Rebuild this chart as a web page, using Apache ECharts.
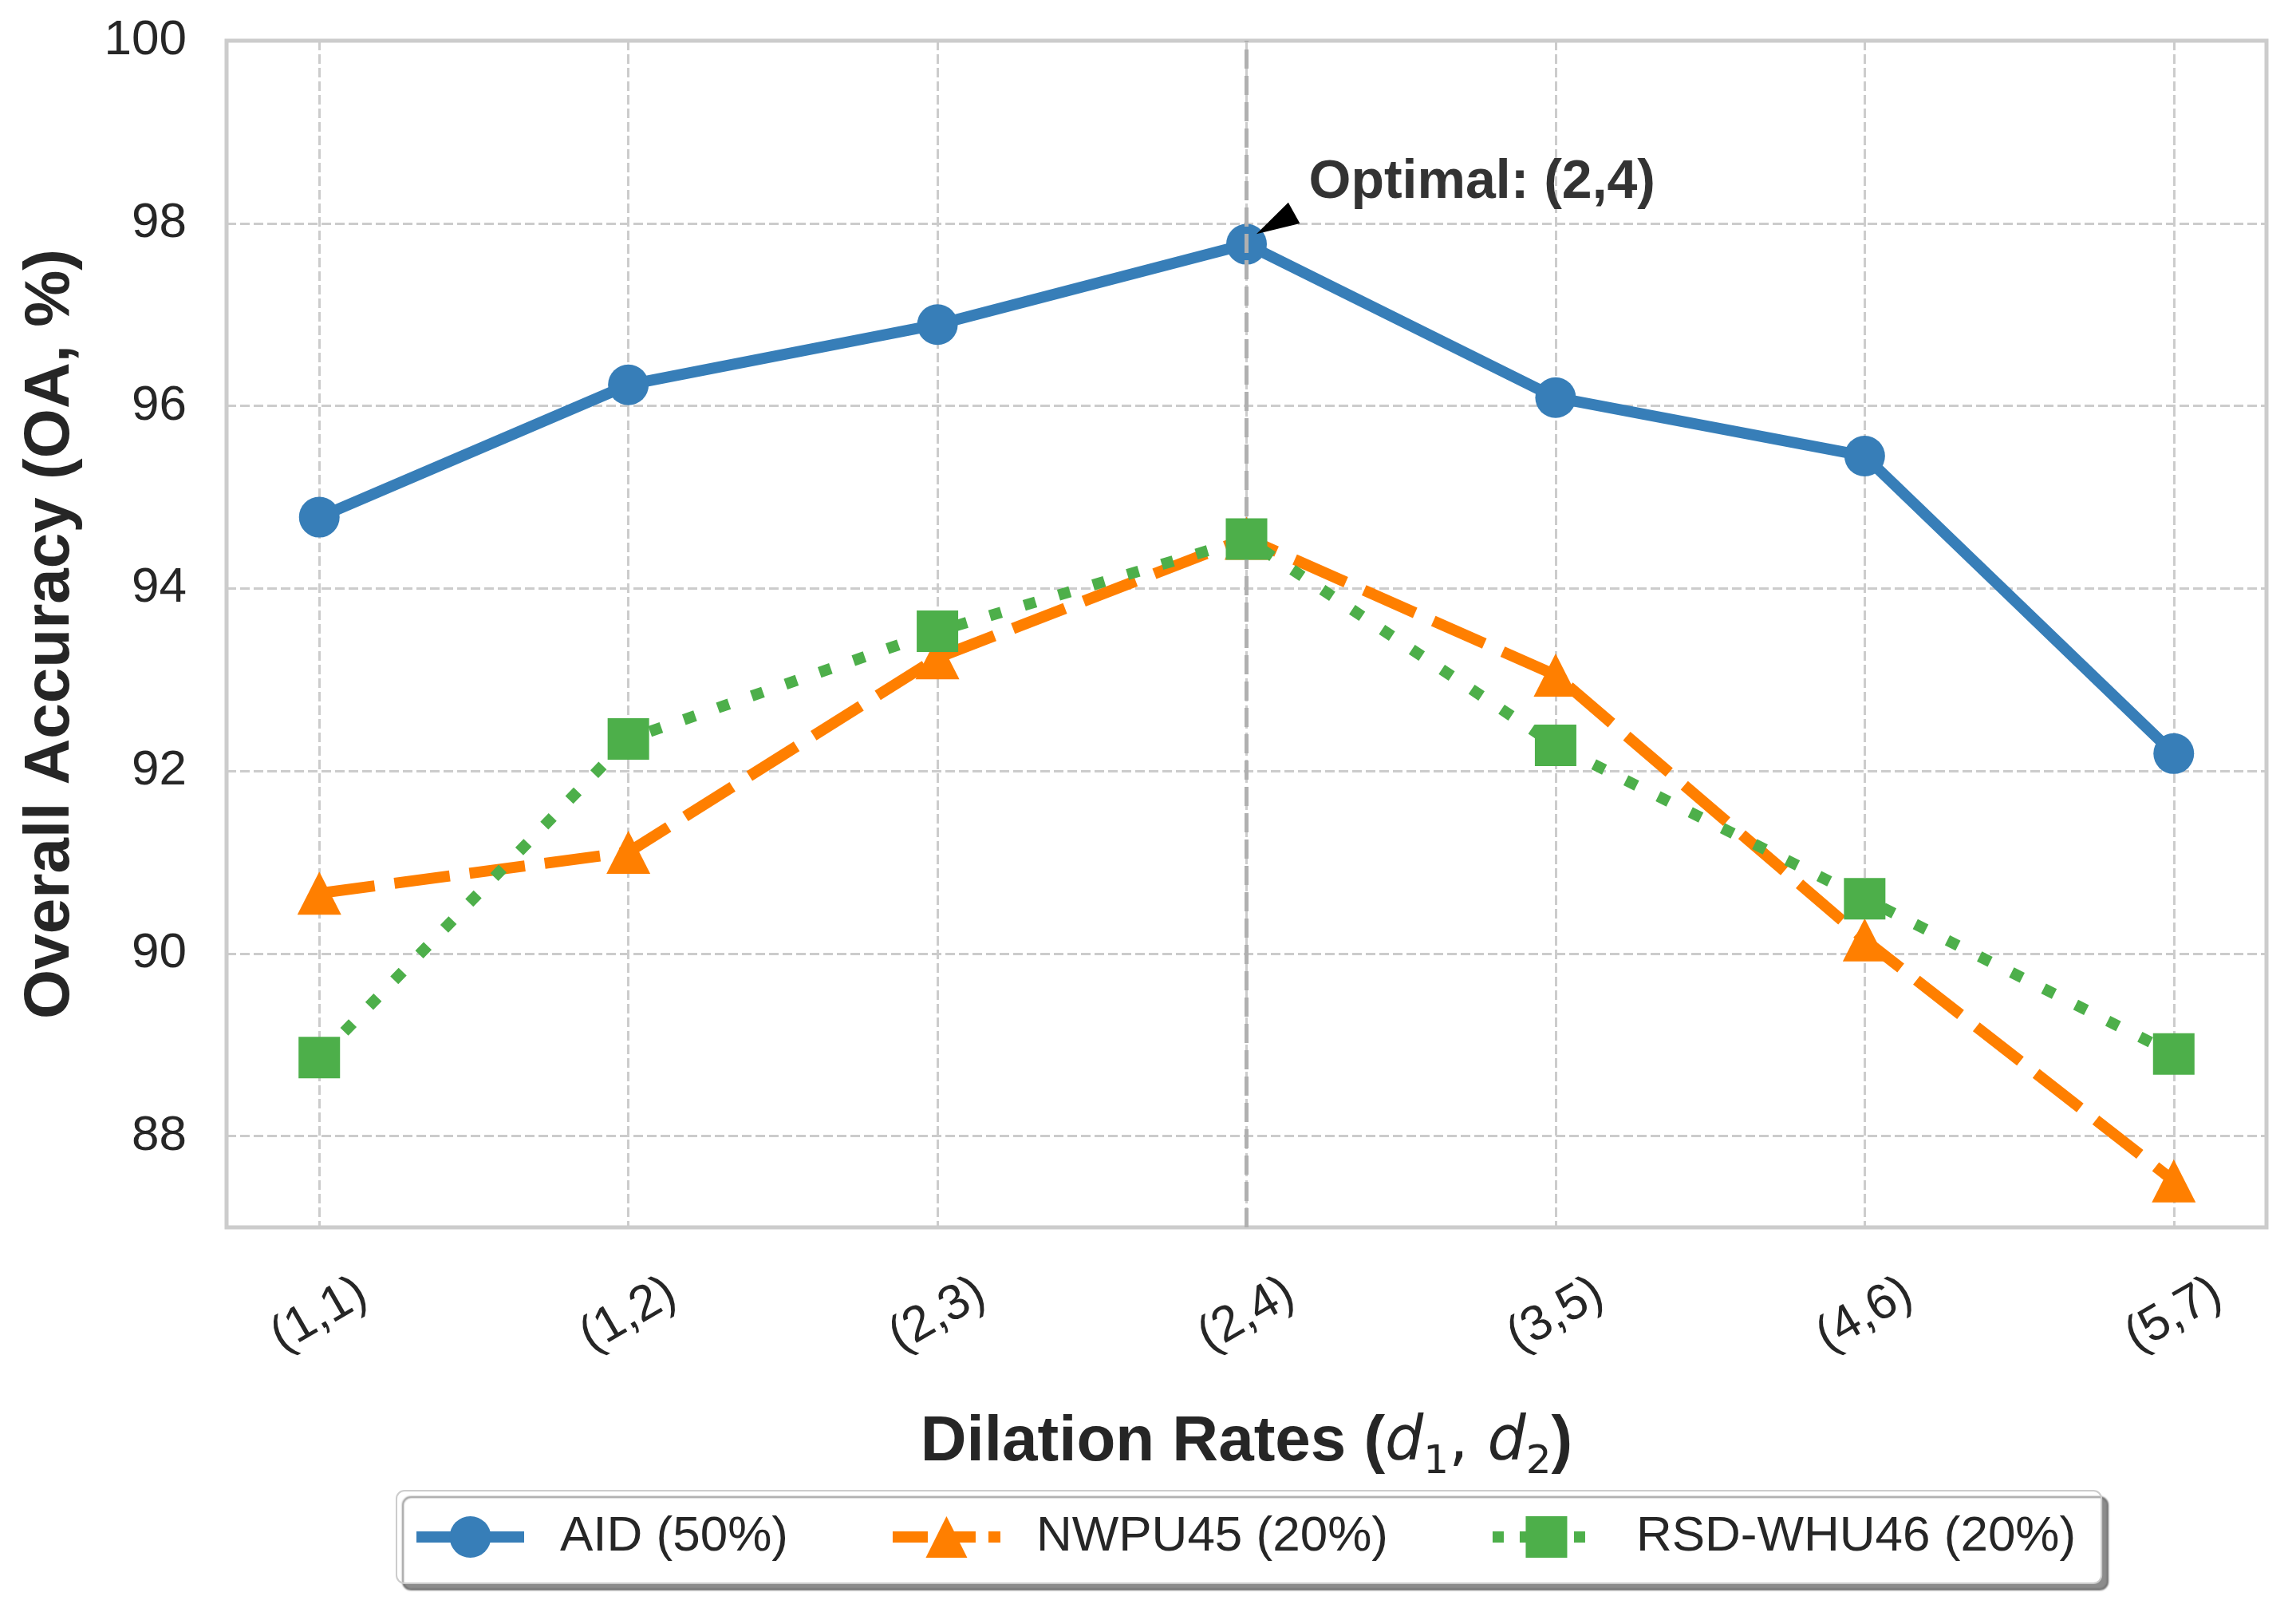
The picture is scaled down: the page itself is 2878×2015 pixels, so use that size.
<!DOCTYPE html>
<html>
<head>
<meta charset="utf-8">
<title>Dilation rates</title>
<script src="https://cdn.jsdelivr.net/npm/echarts@6/dist/echarts.min.js"></script>
<style>
html, body { margin: 0; padding: 0; background: #fff; }
#main { width: 2878px; height: 2015px; }
</style>
</head>
<body>
<div id="main"></div>
<script>
// data
var categories = ['(1,1)', '(1,2)', '(2,3)', '(2,4)', '(3,5)', '(4,6)', '(5,7)'];
var aid = [94.78, 96.23, 96.89, 97.77, 96.09, 95.45, 92.19];
var nwpu = [90.66, 91.11, 93.24, 94.55, 93.05, 90.15, 87.51];
var rsd = [88.86, 92.35, 93.53, 94.54, 92.28, 90.60, 88.90];
var yTicks = [88, 90, 92, 94, 96, 98, 100];
var bestIdx = 3;

var font = 'Liberation Sans';
var textColor = '#262626';

function pts(arr) {
    return arr.map(function (v, i) { return [i, v]; });
}

var myChart = echarts.init(document.getElementById('main'), null, {renderer: 'canvas'});

var option = {
    backgroundColor: '#ffffff',
    animation: false,
    textStyle: {fontFamily: font},
    grid: {
        left: 284, right: 37, top: 51, bottom: 477,
        show: true,
        borderColor: '#cccccc',
        borderWidth: 5,
        backgroundColor: '#ffffff'
    },
    legend: {
        data: [
            {name: 'AID (50%)', lineStyle: {width: 14, type: 'solid'}},
            {name: 'NWPU45 (20%)', lineStyle: {width: 14, type: [44, 16]}},
            {name: 'RSD-WHU46 (20%)', lineStyle: {width: 14, type: [14, 20]}}
        ],
        left: 497,
        top: 1868,
        orient: 'horizontal',
        itemWidth: 135,
        itemHeight: 65,
        itemGap: 124,
        padding: [27, 32, 27, 18],
        backgroundColor: '#ffffff',
        borderColor: '#cccccc',
        borderWidth: 2,
        borderRadius: 10,
        shadowColor: 'rgba(0,0,0,0.45)',
        shadowBlur: 2,
        shadowOffsetX: 8,
        shadowOffsetY: 8,
        textStyle: {
            fontFamily: font,
            fontSize: 62,
            color: textColor,
            padding: [0, 0, 0, 40]
        }
    },
    xAxis: {
        type: 'value',
        min: -0.3,
        max: 6.3,
        splitNumber: 7,
        minInterval: 1,
        maxInterval: 1,
        name: '{b|Dilation Rates (}{i|d}{s|1}{m|, }{i|d}{s|2}{b|)}',
        nameLocation: 'middle',
        nameGap: 270,
        nameTextStyle: {
            verticalAlign: 'middle',
            lineHeight: 100,
            rich: {
                b: {fontFamily: font, fontSize: 80, fontWeight: 'bold', color: textColor, lineHeight: 100, verticalAlign: 'middle'},
                i: {fontFamily: 'DejaVu Sans', fontSize: 76, fontStyle: 'italic', color: textColor, lineHeight: 100, verticalAlign: 'middle'},
                m: {fontFamily: 'DejaVu Sans', fontSize: 76, color: textColor, lineHeight: 100, verticalAlign: 'middle'},
                s: {fontFamily: 'DejaVu Sans', fontSize: 50, color: textColor, lineHeight: 58, verticalAlign: 'bottom'}
            }
        },
        axisLine: {show: false},
        axisTick: {show: false},
        splitLine: {
            show: true,
            lineStyle: {color: '#cccccc', width: 3, type: [12, 5]}
        },
        axisLabel: {
            fontSize: 62,
            fontFamily: font,
            color: textColor,
            rotate: 30,
            align: 'center',
            verticalAlign: 'middle',
            margin: 110,
            formatter: function (v) {
                return Math.abs(v - Math.round(v)) < 1e-6 && categories[Math.round(v)] ? categories[Math.round(v)] : '';
            }
        }
    },
    yAxis: {
        type: 'value',
        min: 87,
        max: 100,
        splitNumber: 6,
        minInterval: 2,
        maxInterval: 2,
        name: 'Overall Accuracy (OA, %)',
        nameLocation: 'middle',
        nameGap: 220,
        nameTextStyle: {
            fontFamily: font,
            fontSize: 80,
            fontWeight: 'bold',
            color: textColor,
            verticalAlign: 'middle'
        },
        axisLine: {show: false},
        axisTick: {show: false},
        splitLine: {
            show: true,
            lineStyle: {color: '#cccccc', width: 3, type: [12, 5]}
        },
        axisLabel: {
            fontSize: 62,
            fontFamily: font,
            color: textColor,
            margin: 50,
            formatter: function (v) {
                return yTicks.indexOf(Math.round(v * 1000) / 1000) >= 0 ? String(v) : '';
            }
        }
    },
    series: [
        {
            // vertical marker at the optimal setting
            name: 'optimal-line',
            type: 'line',
            z: 1,
            data: [[bestIdx, aid[bestIdx]]],
            showSymbol: false,
            lineStyle: {opacity: 0},
            markLine: {
                silent: true,
                symbol: ['none', 'none'],
                label: {show: false},
                lineStyle: {color: '#b0b0b0', width: 5, type: [24, 9]},
                data: [{xAxis: bestIdx}]
            }
        },
        {
            name: 'AID (50%)',
            type: 'line',
            z: 3,
            data: pts(aid),
            symbol: 'circle',
            symbolSize: 51,
            itemStyle: {color: '#377eb8'},
            lineStyle: {color: '#377eb8', width: 14},
            markPoint: {
                silent: true,
                data: [
                    {
                        coord: [bestIdx, aid[bestIdx]],
                        symbol: 'triangle',
                        symbolSize: [30, 54],
                        symbolRotate: 119,
                        symbolOffset: [36, -26],
                        itemStyle: {color: '#000000'},
                        label: {show: false}
                    },
                    {
                        coord: [bestIdx, aid[bestIdx]],
                        symbol: 'circle',
                        symbolSize: 2,
                        itemStyle: {color: 'rgba(0,0,0,0)'},
                        label: {
                            show: true,
                            formatter: 'Optimal: ' + categories[bestIdx],
                            position: [79, -76],
                            align: 'left',
                            verticalAlign: 'middle',
                            fontFamily: font,
                            fontSize: 68,
                            fontWeight: 'bold',
                            color: '#333333'
                        }
                    }
                ]
            }
        },
        {
            name: 'NWPU45 (20%)',
            type: 'line',
            z: 4,
            data: pts(nwpu),
            symbol: 'triangle',
            symbolSize: [55, 54],
            itemStyle: {color: '#ff7f00'},
            lineStyle: {color: '#ff7f00', width: 14, type: [70, 25]}
        },
        {
            name: 'RSD-WHU46 (20%)',
            type: 'line',
            z: 5,
            data: pts(rsd),
            symbol: 'rect',
            symbolSize: 52,
            itemStyle: {color: '#4daf4a'},
            lineStyle: {color: '#4daf4a', width: 14, type: [15, 30]}
        }
    ]
};

myChart.setOption(option);
</script>
</body>
</html>
